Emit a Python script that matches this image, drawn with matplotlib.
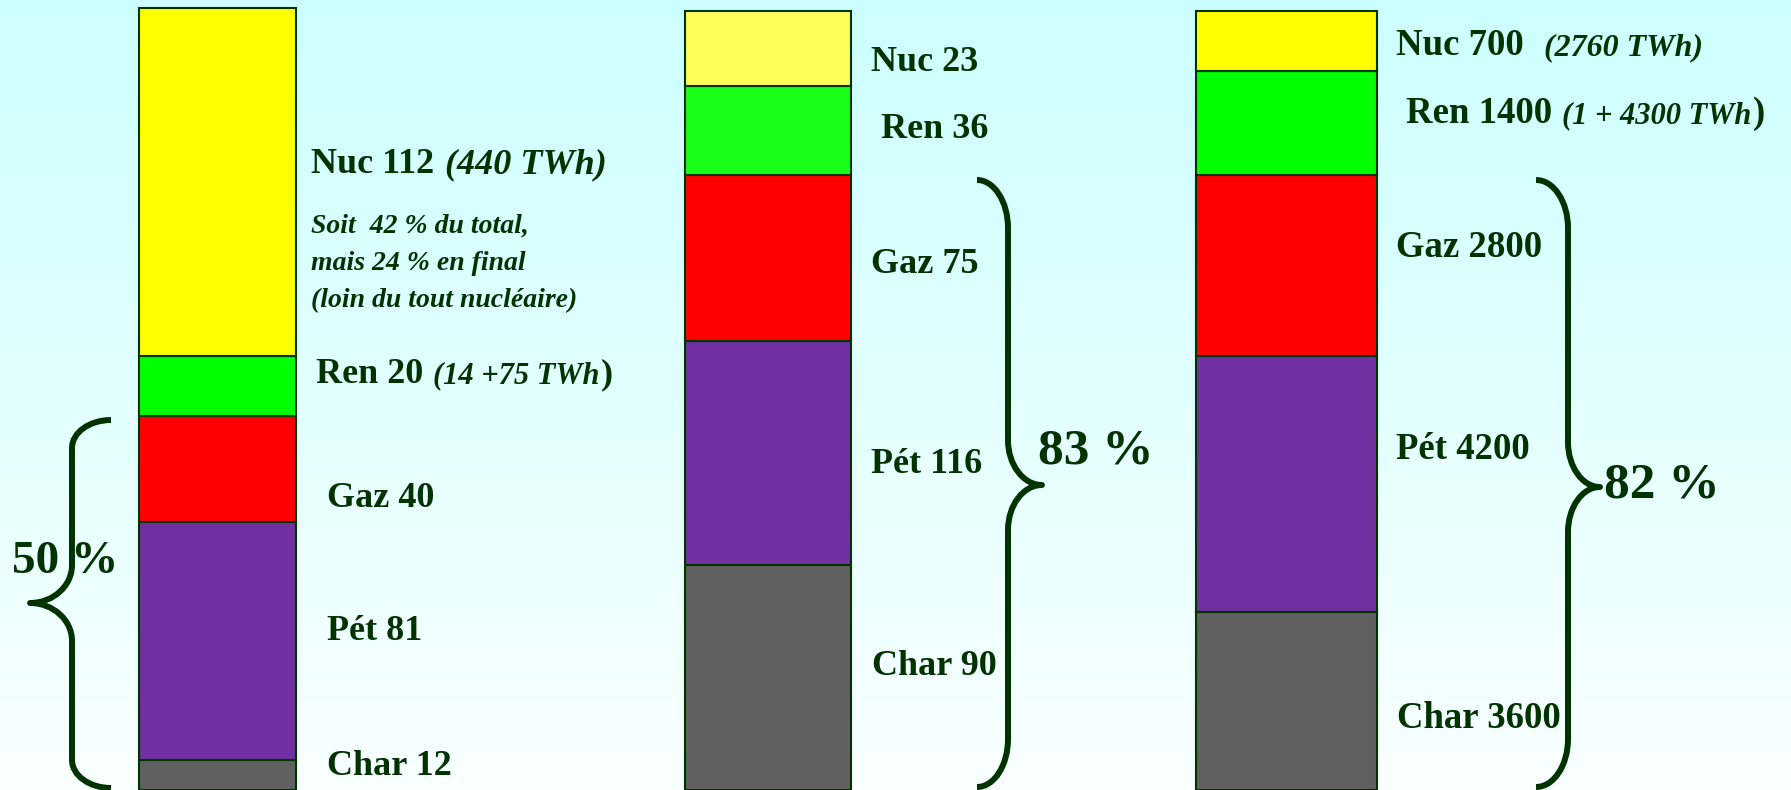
import numpy as np
import matplotlib.pyplot as plt
from matplotlib.path import Path
from matplotlib.patches import PathPatch

W, H = 1791, 790
DARK = '#003300'
FONT = 'Liberation Serif'

# stacking order, bottom to top
sources = ['Char', 'Pét', 'Gaz', 'Ren', 'Nuc']

values_1 = [12, 81, 40, 20, 112]
values_2 = [90, 116, 75, 36, 23]
values_3 = [3600, 4200, 2800, 1400, 700]

# drawn height of each block, in % of the bar
share_1 = [3.8, 30.5, 13.7, 7.7, 44.6]
share_2 = [28.8, 28.8, 21.2, 11.5, 9.6]
share_3 = [22.8, 32.8, 23.3, 13.3, 7.7]

fossil_pct = [50, 83, 82]

colors_1 = ['#606060', '#7030A0', '#FF0000', '#00FF00', '#FFFF00']
colors_2 = ['#606060', '#7030A0', '#FF0000', '#1AFF1A', '#FFFF5A']
colors_3 = ['#606060', '#7030A0', '#FF0000', '#00FF00', '#FFFF00']

note_nuc_1 = '(440 TWh)'
note_ren_1 = '(14 +75 TWh'
note_nuc_3 = '(2760 TWh)'
note_ren_3 = '(1 + 4300 TWh'
comment_1 = ['Soit  42 % du total,', 'mais 24 % en final', '(loin du tout nucléaire)']

fig = plt.figure(figsize=(W / 100, H / 100), dpi=100)

# background gradient
bg = fig.add_axes([0, 0, 1, 1])
top = np.array([204, 255, 255]) / 255
bot = np.array([249, 255, 255]) / 255
t = np.linspace(0, 1, 256)[:, None, None]
bg.imshow(top + (bot - top) * t, extent=[0, 1, 0, 1], aspect='auto')
bg.axis('off')

# bars, y in percent of the bar height
ax = fig.add_axes([0, 0, 1, 1])
ax.set_facecolor('none')
ax.set_xlim(0, W)
ax.set_ylim(0, 100 * H / 780)
ax.axis('off')

bar_x = [217.5, 768, 1286.5]
bar_w = [157, 166, 181]
for xc, w, share, cols in zip(bar_x, bar_w, [share_1, share_2, share_3],
                              [colors_1, colors_2, colors_3]):
    bottoms = np.concatenate([[0], np.cumsum(share)[:-1]])
    ax.bar([xc] * len(share), share, width=w, bottom=bottoms, color=cols,
           edgecolor=DARK, linewidth=1.5)

# overlay in pixel coordinates for texts and braces
ov = fig.add_axes([0, 0, 1, 1])
ov.set_facecolor('none')
ov.set_xlim(0, W)
ov.set_ylim(H, 0)
ov.axis('off')
renderer = fig.canvas.get_renderer()


def rich(x, y, parts):
    # parts: (text, italic, size, gap before)
    for s, italic, size, gap in parts:
        x += gap
        txt = ov.text(x, y, s, fontsize=size, fontweight='bold',
                      fontstyle='italic' if italic else 'normal',
                      color=DARK, family=FONT, ha='left', va='baseline')
        bb = txt.get_window_extent(renderer)
        x = ov.transData.inverted().transform((bb.x1, 0))[0]


def label(src, val):
    return f'{src} {val}'


pos_1 = {'Nuc': (311, 173), 'Ren': (316, 383), 'Gaz': (327, 507),
         'Pét': (327, 640), 'Char': (327, 775)}
pos_2 = {'Nuc': (871, 71), 'Ren': (881, 138), 'Gaz': (871, 273),
         'Pét': (871, 473), 'Char': (872, 675)}
pos_3 = {'Nuc': (1396, 55), 'Ren': (1406, 123), 'Gaz': (1396, 257),
         'Pét': (1396, 459), 'Char': (1397, 728)}

for src, val in zip(sources, values_1):
    x, y = pos_1[src]
    parts = [(label(src, val), False, 26, 0)]
    if src == 'Nuc':
        parts.append((note_nuc_1, True, 26, 11))
    if src == 'Ren':
        parts += [(note_ren_1, True, 22, 10), (')', False, 26, 1)]
    rich(x, y, parts)

for src, val in zip(sources, values_2):
    x, y = pos_2[src]
    rich(x, y, [(label(src, val), False, 26, 0)])

for src, val in zip(sources, values_3):
    x, y = pos_3[src]
    parts = [(label(src, val), False, 26.5, 0)]
    if src == 'Nuc':
        parts.append((note_nuc_3, True, 23, 20))
    if src == 'Ren':
        parts += [(note_ren_3, True, 22, 10), (')', False, 26.5, 1)]
    rich(x, y, parts)

for line, yb in zip(comment_1, [233, 270, 307]):
    ov.text(311, yb, line, fontsize=20, fontweight='bold', fontstyle='italic',
            color=DARK, family=FONT, ha='left', va='baseline')


def brace(xa, xs, xt, y0, y1, ym, ra, rt):
    k = 0.552
    verts = [
        (xa, y0), (xa - k * (xa - xs), y0), (xs, y0 + ra * (1 - k)), (xs, y0 + ra),
        (xs, ym - rt),
        (xs, ym - rt * (1 - k)), (xt + k * (xs - xt), ym), (xt, ym),
        (xt + k * (xs - xt), ym), (xs, ym + rt * (1 - k)), (xs, ym + rt),
        (xs, y1 - ra),
        (xs, y1 - ra * (1 - k)), (xa - k * (xa - xs), y1), (xa, y1),
    ]
    codes = [Path.MOVETO, Path.CURVE4, Path.CURVE4, Path.CURVE4, Path.LINETO,
             Path.CURVE4, Path.CURVE4, Path.CURVE4,
             Path.CURVE4, Path.CURVE4, Path.CURVE4, Path.LINETO,
             Path.CURVE4, Path.CURVE4, Path.CURVE4]
    ov.add_patch(PathPatch(Path(verts, codes), fill=False, edgecolor=DARK,
                           linewidth=4.3, capstyle='butt', joinstyle='round'))


brace(111, 72, 30, 420, 788, 603, 28, 38)
brace(977, 1008, 1042, 180, 787, 485, 48, 45)
brace(1536, 1568, 1600, 180, 787, 487, 48, 45)

pct_pos = [(12, 573, 34), (1038, 463, 37), (1604, 498, 37)]
for p, (x, y, size) in zip(fossil_pct, pct_pos):
    ov.text(x, y, f'{p} %', fontsize=size, fontweight='bold', color=DARK,
            family=FONT, ha='left', va='baseline')

fig.savefig('out.png', dpi=100)
